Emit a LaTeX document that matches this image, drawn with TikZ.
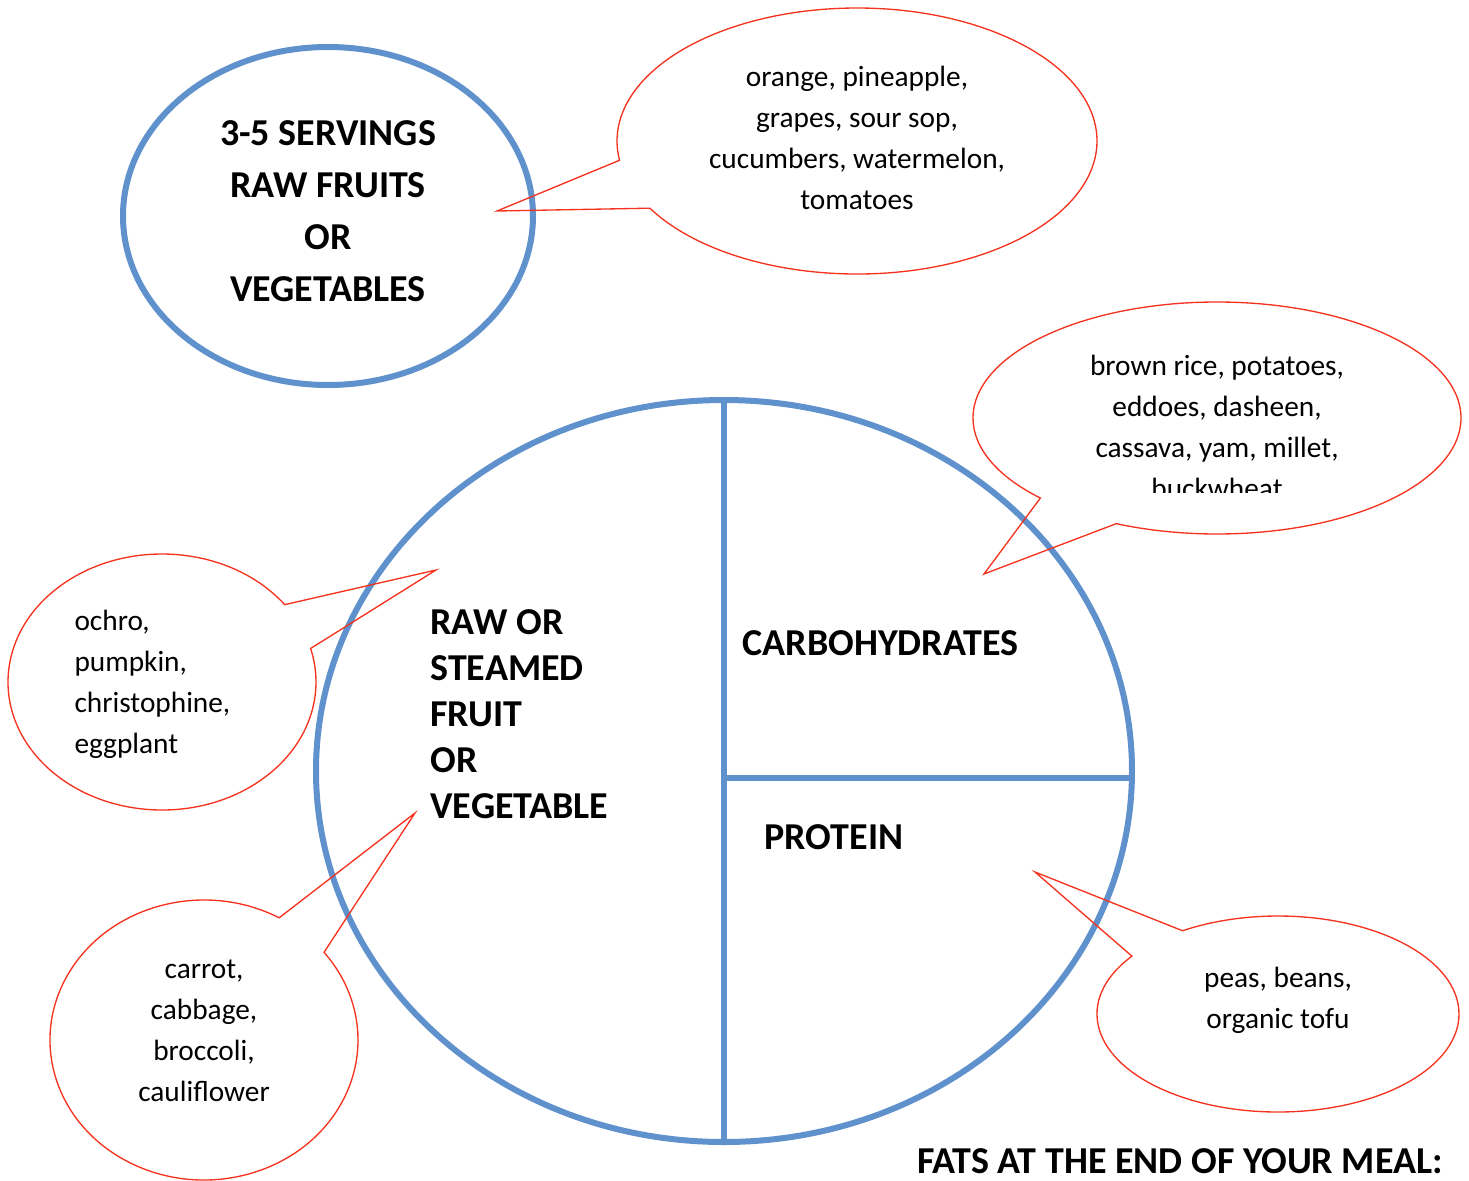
\documentclass[tikz,border=0pt]{standalone}
\usepackage{fontspec}
\setmainfont{Carlito}
\usetikzlibrary{shapes.geometric,shapes.callouts}
\definecolor{plateblue}{RGB}{95,145,205}
\definecolor{calloutred}{RGB}{245,50,30}
\tikzset{wh/.style 2 args={minimum width=#1*0.375pt,minimum height=#2*0.375pt},
  rim/.style={ellipse,draw=plateblue,line width=2.25pt,inner sep=0pt,outer sep=0pt},
  bubble/.style={ellipse callout,draw=calloutred,line width=0.5pt,inner sep=0pt,callout pointer arc=22},
  heading/.style={font=\bfseries\fontsize{14.25}{17.25}\selectfont,align=left,inner sep=0pt},
  items/.style={font=\fontsize{11}{15.4}\selectfont,align=center,inner sep=0pt}}
\begin{document}
\begin{tikzpicture}[x=0.375pt,y=-0.375pt]
  \useasboundingbox (0,0) rectangle (1469,1180);
  \node[rim,wh={410}{338}] (servings) at (328,216) {};
  \node[rim,wh={816}{742}] (plate) at (724,771) {};
  \draw[plateblue,line width=2.25pt] (plate.north) -- (plate.south);
  \draw[plateblue,line width=2.25pt] ([yshift=-2.6pt]plate.center) -- ([yshift=-2.6pt]plate.east);
  \coordinate (fruittip) at (497,211);
  \coordinate (carbtip) at (984,574);
  \coordinate (ochrotip) at (436,570);
  \coordinate (carrottip) at (415,813);
  \coordinate (peastip) at (1035,872);
  \node[bubble,wh={480}{266},callout absolute pointer={(fruittip)}] (fruits) at (857,141) {};
  \node[bubble,wh={488}{232},callout absolute pointer={(carbtip)}] (carbs) at (1217,418) {};
  \node[bubble,wh={308}{256},callout absolute pointer={(ochrotip)}] (ochro) at (162,682) {};
  \node[bubble,wh={308}{280},callout absolute pointer={(carrottip)}] (carrot) at (204,1040) {};
  \node[bubble,wh={362}{196},callout absolute pointer={(peastip)}] (peas) at (1278,1014) {};
  \node[heading,align=center,font=\bfseries\fontsize{14.25}{19.5}\selectfont] (servingstext) at (328,211)
    {3-5 SERVINGS\\RAW FRUITS\\OR\\VEGETABLES};
  \node[heading,anchor=west] (rawtext) at (430,714) {RAW OR\\STEAMED\\FRUIT\\OR\\VEGETABLE};
  \node[heading,anchor=west] (carbohydrates) at (742,643) {CARBOHYDRATES};
  \node[heading,anchor=west] (protein) at (764,837) {PROTEIN};
  \node[heading] (fats) at (1180,1161) {FATS AT THE END OF YOUR MEAL:};
  \node[items] (fruitlist) at (857,138) {orange, pineapple,\\grapes, sour sop,\\cucumbers, watermelon,\\tomatoes};
  \begin{scope}
    \clip (900,300) rectangle (1469,492);
    \node[items] (carblist) at (1217,427) {brown rice, potatoes,\\eddoes, dasheen,\\cassava, yam, millet,\\buckwheat};
  \end{scope}
  \node[items,align=left,anchor=west] (ochrolist) at (74,684) {ochro,\\pumpkin,\\christophine,\\eggplant};
  \node[items] (carrotlist) at (204,1031) {carrot,\\cabbage,\\broccoli,\\cauliflower};
  \node[items] (peaslist) at (1278,1000) {peas, beans,\\organic tofu};
\end{tikzpicture}
\end{document}
